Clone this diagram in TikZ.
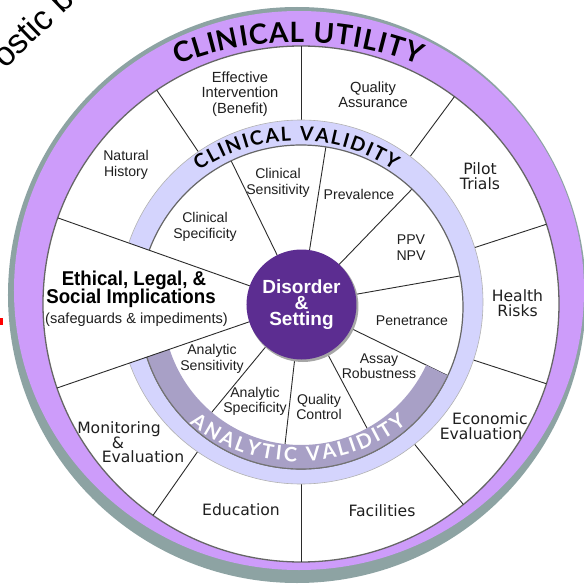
\documentclass[tikz,border=0pt]{standalone}
\usepackage{fontspec}
\setmainfont{Liberation Sans}
\newfontfamily\arialf{Liberation Sans}
\newfontfamily\verdf{DejaVu Sans}
\newfontfamily\ringf{Lato}
\usetikzlibrary{decorations.text}
\definecolor{utilpurple}{HTML}{CD9CFA}
\definecolor{rimgray}{HTML}{8DA3A3}
\definecolor{lav}{HTML}{D4D4FD}
\definecolor{anaband}{HTML}{A8A0C6}
\definecolor{corepurple}{HTML}{5C2D91}
\definecolor{spokecol}{HTML}{2B2B2B}
\begin{document}
\begin{tikzpicture}[x=1pt,y=1pt,
  lab/.style={font=\arialf\fontsize{14.1}{15.4}\selectfont, text=black!88, align=center, inner sep=0pt},
  labbig/.style={lab, font=\arialf\fontsize{14.7}{15.2}\selectfont},
  olab/.style={font=\verdf\fontsize{15.6}{14.8}\selectfont, text=black!88, align=center, inner sep=0pt},
  spoke/.style={draw=spokecol, line width=0.9pt},
]
\useasboundingbox (-301,-283) rectangle (283,304);
\fill[white] (-301,-283) rectangle (283,304);

% cut-off title fragment and red mark at the left edge
\node[font=\arialf\fontsize{34}{34}\selectfont, rotate=44, anchor=base west, inner sep=0pt] (ttl) at (-296,234) {ostic b};
\fill[red] (-301,-21) rectangle (-298,-14);

% outer rims
\fill[rimgray] (-4,9) ellipse [x radius=289, y radius=288];
\fill[utilpurple] (-2,13.5) ellipse [x radius=285, y radius=279.5];
\fill[white] (0,0) circle (258);
\draw[black!60, line width=1.3pt] (0,0) circle (258);

% outer spokes
\foreach \a in {124,90,53.5,18,-18,-51,-90,-125}
  \draw[spoke] (\a:172) -- (\a:258);
% inner spokes
\foreach \a in {116,81,46,10,-26,-62,-96.5,-129.5}
  \draw[spoke] (\a:40) -- (\a:168);

% clinical validity ring (gap at the ethical cell)
\begin{scope}
  \clip (0,0) -- (160.5:400) -- (120:400) -- (60:400) -- (0:400) -- (-60:400) -- (-120:400) -- (-161:400) -- cycle;
  \fill[lav, even odd rule] (0,2) circle (182) (0,-3) circle (162);
  \draw[black!30, line width=0.6pt] (0,2) circle (182);
  \draw[black!60, line width=1.2pt] (0,-3) circle (162);
\end{scope}

% analytic validity band
\begin{scope}
  \clip (0,0) -- (199:300) -- (240:300) -- (300:300) -- (334:300) -- cycle;
  \fill[anaband, even odd rule] (0,-3) circle (162) (0,-3) circle (138);
  \draw[black!55, line width=1.1pt] (0,-3) circle (162);
\end{scope}

% long spokes across the ethical cell
\draw[spoke] (160.5:40) -- (160.5:258);
\draw[spoke] (199:40) -- (199:258);

% ring captions
\path[decorate, decoration={text along path,
   text={|\ringf\bfseries\fontsize{28}{28}\selectfont|CLINICAL UTILITY},
   text align={fit to path}}]
   ([shift={(-3,-68)}]111.5:330) arc[start angle=111.5, end angle=68.5, radius=330];
\path[decorate, decoration={text along path,
   text={|\ringf\bfseries\fontsize{19.5}{19.5}\selectfont|CLINICAL VALIDITY},
   text align={fit to path}}]
   ([shift={(-4,-9.6)}]124.5:173) arc[start angle=124.5, end angle=56, radius=173];
\path[decorate, decoration={text along path,
   text={|\ringf\bfseries\fontsize{20}{20}\selectfont\color{white}|ANALYTIC VALIDITY},
   text align={fit to path}}]
   ([shift={(-3,17)}]231.5:174.5) arc[start angle=231.5, end angle=308.5, radius=174.5];

% centre
\fill[black!35] (2,-2.5) circle (55.5);
\node[circle, fill=corepurple, minimum size=110pt, inner sep=0pt, text=white, align=center,
      font=\arialf\bfseries\fontsize{19}{16}\selectfont] (core) at (0.5,-0.5) {Disorder\\\&\\Setting};

% inner cell labels
\node[lab] (csp) at (-96,77) {Clinical\\Specificity};
\node[lab] (csn) at (-23,121) {Clinical\\Sensitivity};
\node[lab] (prev) at (58,110) {Prevalence};
\node[lab] (ppv) at (110,56.5) {PPV\\NPV};
\node[lab] (pen) at (111,-17) {Penetrance};
\node[lab] (assay) at (78,-62) {Assay\\Robustness};
\node[lab] (qc) at (18,-103) {Quality\\Control};
\node[lab] (asp) at (-46,-97.5) {Analytic\\Specificity};
\node[lab] (asn) at (-89,-55) {Analytic\\Sensitivity};

% outer cell labels
\node[labbig] (eff) at (-61,210) {Effective\\Intervention\\(Benefit)};
\node[labbig] (qa) at (72,209) {Quality\\Assurance};
\node[lab] (nat) at (-175,139) {Natural\\History};
\node[olab] (pilot) at (179,127.5) {Pilot\\Trials};
\node[olab] (health) at (216.5,0.5) {Health\\Risks};
\node[olab] (econ1) at (189,-115) {Economic};
\node[olab] (econ2) at (180,-130) {Evaluation};
\node[olab] (fac) at (81,-207) {Facilities};
\node[olab] (edu) at (-60,-206) {Education};
\node[olab] (mon1) at (-182,-125) {Monitoring};
\node[olab] (mon2) at (-183,-139) {\&};
\node[olab] (mon3) at (-158,-153) {Evaluation};

% ethical cell
\node[inner sep=0pt, font=\arialf\bfseries\fontsize{20}{20}\selectfont] (eth1) at (-167,24) {\scalebox{0.935}[1]{Ethical, Legal, \&}};
\node[inner sep=0pt, font=\arialf\bfseries\fontsize{20}{20}\selectfont] (eth2) at (-170,5.5) {\scalebox{0.935}[1]{Social Implications}};
\node[inner sep=0pt, font=\arialf\fontsize{14.6}{15}\selectfont, text=black!88] (eth3) at (-164.5,-16) {(safeguards \& impediments)};
\end{tikzpicture}
\end{document}
